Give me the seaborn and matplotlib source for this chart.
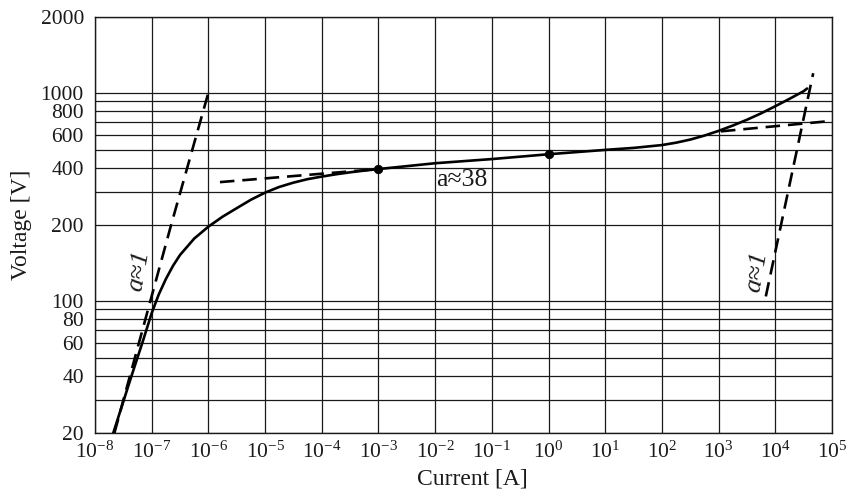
import numpy as np
import pandas as pd
import matplotlib
matplotlib.use("Agg")
import matplotlib.pyplot as plt
import matplotlib.ticker as mticker
import seaborn as sns

# ---- data ----
current_solid = [2.1e-8, 4.4e-8, 6.85e-8, 1.0e-7, 1.33e-7, 1.78e-7, 2.37e-7, 3.16e-7,
                 5.62e-7, 1.0e-6, 1.78e-6, 3.16e-6, 5.62e-6, 1.0e-5, 1.78e-5, 3.16e-5,
                 5.62e-5, 1.0e-4, 1.78e-4, 3.16e-4, 5.62e-4, 1.0e-3, 1.0e-2, 1.0e-1,
                 1.0e0, 1.0e1, 3.16e1, 1.0e2, 1.78e2, 3.16e2, 5.62e2, 1.0e3, 1.78e3,
                 3.16e3, 5.62e3, 1.0e4, 1.78e4, 3.16e4, 3.63e4]
voltage_solid = [20, 40, 60, 86, 105.8, 122, 137.5, 152,
                 176.6, 197, 221.3, 245.4, 271.9, 296.5, 317.8, 334.8,
                 349.4, 360.4, 370.6, 379.7, 387.6, 395, 424, 446,
                 473, 498.7, 510.9, 528.8, 544.5, 565.4, 593.6, 628.5, 670.6,
                 719.5, 778.0, 848.4, 928.4, 1014, 1039]

current_left_tangent = [2.2e-8, 9.5e-8, 2.2e-7, 1.0e-6]
voltage_left_tangent = [20, 100, 200, 1000]

current_mid_tangent = [1.6e-6, 1.0e-3]
voltage_mid_tangent = [337, 395]

current_right_flat = [1.1e3, 1.0e5]
voltage_right_flat = [625, 710]

current_right_tangent = [6.8e3, 1.26e4, 3.94e4, 4.66e4]
voltage_right_tangent = [104, 200, 1000, 1195]

current_dots = [1.0e-3, 1.0e0]
voltage_dots = [395, 473]

x_ticks = [1e-8, 1e-7, 1e-6, 1e-5, 1e-4, 1e-3, 1e-2, 1e-1, 1e0, 1e1, 1e2, 1e3, 1e4, 1e5]
x_tick_labels = [r"$10^{-8}$", r"$10^{-7}$", r"$10^{-6}$", r"$10^{-5}$", r"$10^{-4}$",
                 r"$10^{-3}$", r"$10^{-2}$", r"$10^{-1}$", r"$10^{0}$", r"$10^{1}$",
                 r"$10^{2}$", r"$10^{3}$", r"$10^{4}$", r"$10^{5}$"]
y_ticks = [20, 40, 60, 80, 100, 200, 400, 600, 800, 1000, 2000]
y_minor = [30, 50, 70, 90, 300, 500, 700, 900]

# ---- style ----
sns.set_theme(style="white")
plt.rcParams["font.family"] = ["Liberation Serif", "DejaVu Serif"]
plt.rcParams["mathtext.fontset"] = "custom"
plt.rcParams["mathtext.rm"] = "Liberation Serif"
plt.rcParams["mathtext.it"] = "Liberation Serif:italic"

fig = plt.figure(figsize=(8.52, 4.95), dpi=100)
ax = fig.add_axes([95 / 852, 62 / 495, 737 / 852, 416 / 495])

# piecewise-logarithmic voltage axis (as in the reference drawing)
KL = np.array([np.log10(20) - 10, np.log10(20), 2.0, np.log10(200), 3.0, np.log10(2000), np.log10(2000) + 10])
KH = np.array([-1890.0, 0.0, 132.3, 208.0, 340.3, 416.0, 416.0 + 1890.0])


def fwd(y):
    y = np.asarray(y, dtype=float)
    with np.errstate(divide="ignore", invalid="ignore"):
        l = np.log10(np.where(y > 0, y, 1e-300))
    return np.interp(l, KL, KH)


def inv(h):
    h = np.asarray(h, dtype=float)
    return 10 ** np.interp(h, KH, KL)


lw = 1.9
dash = (5.5, 3.0)

solid_df = pd.DataFrame({"current": current_solid, "voltage": voltage_solid})
sns.lineplot(data=solid_df, x="current", y="voltage", sort=False, estimator=None,
             color="black", lw=lw, ax=ax, zorder=4)

for cx, vy in [(current_left_tangent, voltage_left_tangent),
               (current_mid_tangent, voltage_mid_tangent),
               (current_right_flat, voltage_right_flat),
               (current_right_tangent, voltage_right_tangent)]:
    df = pd.DataFrame({"current": cx, "voltage": vy})
    sns.lineplot(data=df, x="current", y="voltage", sort=False, estimator=None,
                 color="black", lw=lw, ax=ax, zorder=4, dashes=False,
                 linestyle=(0, dash))

dots_df = pd.DataFrame({"current": current_dots, "voltage": voltage_dots})
sns.scatterplot(data=dots_df, x="current", y="voltage", color="black", s=38,
                edgecolor="black", ax=ax, zorder=5)

ax.set_xscale("log")
ax.set_yscale("function", functions=(fwd, inv))
ax.set_xlim(1e-8, 1e5)
ax.set_ylim(20, 2000)

ax.xaxis.set_major_locator(mticker.FixedLocator(x_ticks))
ax.xaxis.set_major_formatter(mticker.FixedFormatter(x_tick_labels))
ax.xaxis.set_minor_locator(mticker.NullLocator())
ax.yaxis.set_major_locator(mticker.FixedLocator(y_ticks))
ax.yaxis.set_major_formatter(mticker.FixedFormatter([str(v) for v in y_ticks]))
ax.yaxis.set_minor_locator(mticker.FixedLocator(y_minor))
ax.yaxis.set_minor_formatter(mticker.NullFormatter())

ax.grid(which="both", axis="both", color="#1a1a1a", lw=0.9)
ax.set_axisbelow(True)
for s in ax.spines.values():
    s.set_color("#1a1a1a")
    s.set_linewidth(1.0)

ax.tick_params(axis="both", which="both", length=0, colors="#1a1a1a", labelsize=15.5)
ax.tick_params(axis="x", pad=6)
ax.tick_params(axis="y", pad=8)

ax.set_xlabel("Current [A]", fontsize=17, color="#1a1a1a")
ax.set_ylabel("Voltage [V]", fontsize=17, color="#1a1a1a")
ax.xaxis.set_label_coords((472 - 95) / 737, -0.085)
ax.yaxis.set_label_coords(-0.0855, 0.5)

ax.text(3e-2, 345, "a≈38", fontsize=18.5, ha="center", va="center", color="#1a1a1a", zorder=6)
ax.text(6.0e-8, 131, "a≈1", fontsize=19, ha="center", va="center", rotation=80,
        color="#1a1a1a", zorder=6, style="italic")
ax.text(4.8e3, 130, "a≈1", fontsize=19, ha="center", va="center", rotation=80,
        color="#1a1a1a", zorder=6, style="italic")

fig.savefig("out.png", dpi=100)
